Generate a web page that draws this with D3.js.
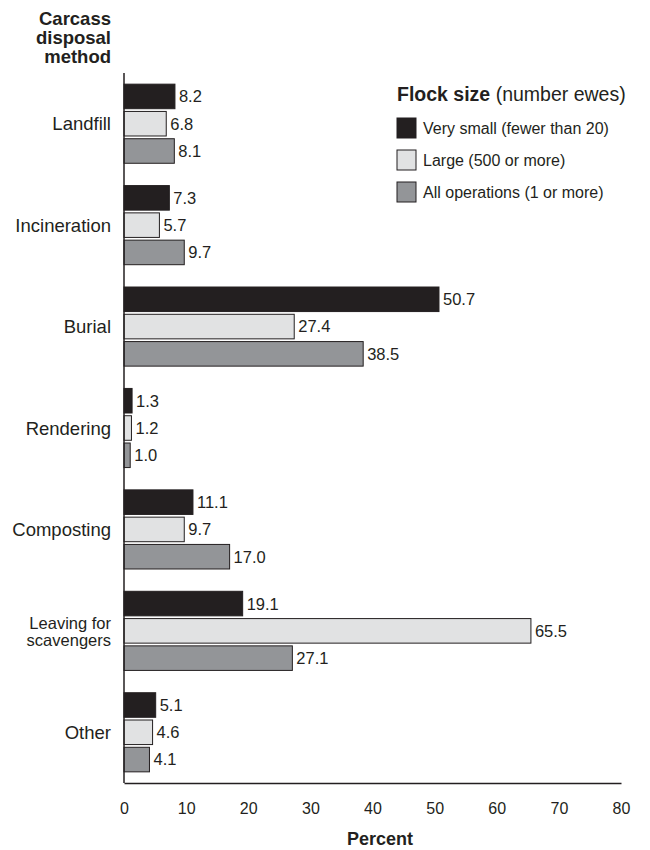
<!DOCTYPE html>
<html>
<head>
<meta charset="utf-8">
<script src="https://cdn.jsdelivr.net/npm/d3@7"></script>
<style>
  body { margin: 0; background: #fff; }
  svg text { font-family: "Liberation Sans", Arial, sans-serif; fill: #231f20; }
</style>
</head>
<body>
<svg id="chart" width="650" height="850"></svg>
<script>
"use strict";

// données
var methods = ["Landfill", "Incineration", "Burial", "Rendering", "Composting", "Leaving for scavengers", "Other"]
var seriesNames = ["Very small (fewer than 20)", "Large (500 or more)", "All operations (1 or more)"]
var verySmall = [8.2, 7.3, 50.7, 1.3, 11.1, 19.1, 5.1]
var large = [6.8, 5.7, 27.4, 1.2, 9.7, 65.5, 4.6]
var allOps = [8.1, 9.7, 38.5, 1.0, 17.0, 27.1, 4.1]
var xTicks = [0, 10, 20, 30, 40, 50, 60, 70, 80]
var colors = ["#231f20", "#e1e2e3", "#939598"]

var svg = d3.select("#chart")

var x = d3.scaleLinear().domain([0, 80]).range([124, 621])
var y = d3.scaleBand().domain(methods).range([73, 783]).paddingInner(0.22).paddingOuter(0.11)
var yInner = d3.scaleBand().domain([0, 1, 2]).range([0, y.bandwidth()]).paddingInner(0.1)

var allSeries = [verySmall, large, allOps]

var groups = svg.append("g")
  .selectAll("g")
  .data(methods)
  .enter()
  .append("g")
    .attr("transform", function(d) { return "translate(0," + y(d) + ")" })

groups.each(function(m, i) {
  var g = d3.select(this)
  var vals = allSeries.map(function(s, k) { return { k: k, v: s[i] } })

  g.selectAll("rect")
    .data(vals)
    .enter()
    .append("rect")
      .attr("x", x(0))
      .attr("y", function(d) { return yInner(d.k) })
      .attr("width", function(d) { return x(d.v) - x(0) })
      .attr("height", yInner.bandwidth())
      .style("fill", function(d) { return colors[d.k] })
      .style("stroke", "#231f20")
      .style("stroke-width", 1)

  g.selectAll("text.val")
    .data(vals)
    .enter()
    .append("text")
      .attr("class", "val")
      .attr("x", function(d) { return x(d.v) + 4 })
      .attr("y", function(d) { return yInner(d.k) + yInner.bandwidth() / 2 })
      .attr("dy", "0.36em")
      .style("font-size", "16.5px")
      .text(function(d) { return d.v.toFixed(1) })
})

// libellés des catégories
svg.append("g")
  .selectAll("text")
  .data(methods)
  .enter()
  .append("text")
    .attr("x", 111)
    .attr("y", function(d) { return y(d) + y.bandwidth() / 2 })
    .attr("text-anchor", "end")
    .style("font-size", function(d) { return d === "Leaving for scavengers" ? "16.5px" : "18.5px" })
    .each(function(d) {
      var t = d3.select(this)
      if (d === "Leaving for scavengers") {
        var cy = y(d) + y.bandwidth() / 2
        t.append("tspan").attr("x", 111).attr("y", cy - 2).text("Leaving for")
        t.append("tspan").attr("x", 111).attr("y", cy + 15).text("scavengers")
      } else {
        t.attr("dy", "0.36em").text(d)
      }
    })

// axes
svg.append("line")
  .attr("x1", x(0)).attr("x2", x(0))
  .attr("y1", 73).attr("y2", 783)
  .style("stroke", "#231f20").style("stroke-width", 1.5)

var xAxis = svg.append("g")
  .attr("transform", "translate(0,783)")
  .call(d3.axisBottom(x).tickValues(xTicks).tickSize(0).tickPadding(20))
xAxis.select(".domain").style("stroke", "#231f20").style("stroke-width", 1.5)
xAxis.selectAll("text")
  .style("font-size", "16px")
  .style("font-family", "'Liberation Sans', Arial, sans-serif")
  .style("fill", "#231f20")

svg.append("text")
  .attr("x", 380)
  .attr("y", 845)
  .attr("text-anchor", "middle")
  .style("font-size", "18px")
  .style("font-weight", "bold")
  .text("Percent")

// titre de l'axe vertical
svg.append("text")
  .attr("text-anchor", "end")
  .style("font-size", "18.5px")
  .style("font-weight", "bold")
  .selectAll("tspan")
  .data(["Carcass", "disposal", "method"])
  .enter()
  .append("tspan")
    .attr("x", 111)
    .attr("y", function(d, i) { return 25 + i * 19 })
    .text(function(d) { return d })

// légende
var title = svg.append("text")
  .attr("x", 397)
  .attr("y", 101)
  .style("font-size", "19.5px")
title.append("tspan").style("font-weight", "bold").text("Flock size")
title.append("tspan").text(" (number ewes)")

var legend = svg.append("g")
  .selectAll("g")
  .data(seriesNames)
  .enter()
  .append("g")
    .attr("transform", function(d, i) { return "translate(397," + (118 + i * 32) + ")" })

legend.append("rect")
  .attr("width", 19)
  .attr("height", 20)
  .style("fill", function(d, i) { return colors[i] })
  .style("stroke", "#231f20")

legend.append("text")
  .attr("x", 26)
  .attr("y", 10)
  .attr("dy", "0.36em")
  .style("font-size", "16px")
  .text(function(d) { return d })
</script>
</body>
</html>
